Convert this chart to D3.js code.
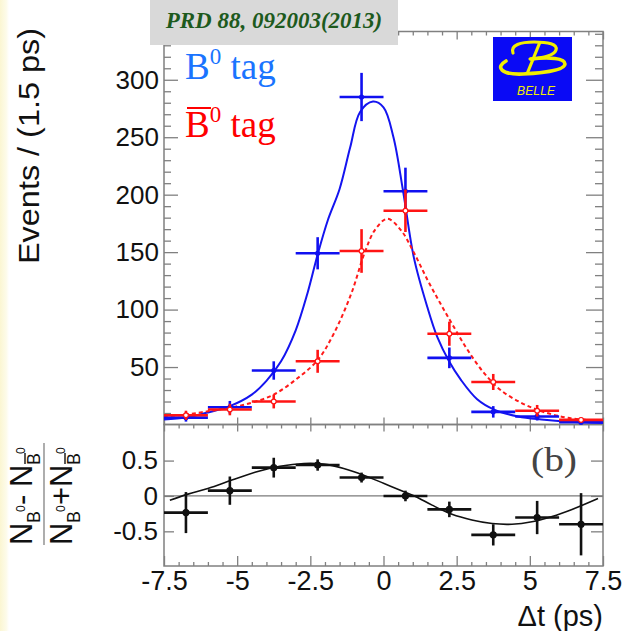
<!DOCTYPE html>
<html><head><meta charset="utf-8">
<script src="https://cdn.jsdelivr.net/npm/d3@7"></script>
<style>
html,body{margin:0;padding:0;background:#fff;}
svg{display:block;font-family:"Liberation Sans",Arial,sans-serif;}
</style></head><body>
<svg id="chart" width="624" height="631"></svg>
<script>
// Δt bins (centres, ps) and half bin width
const binCenters = [-6.75,-5.25,-3.75,-2.25,-0.75,0.75,2.25,3.75,5.25,6.75];
const binHalf = 0.75;

// B0-tagged events per bin and their errors
const b0Counts = [6,15,47,149,285,203,58,11,7,2];
const b0Errors = [3.5,5.5,8,14,21,20.5,9,5,3.5,2];

// anti-B0-tagged events per bin and their errors
const b0barCounts = [8,13,20,55,151,186,79,37,12,4];
const b0barErrors = [4,5,6,10,19,18.5,10.5,7,5,2];

// asymmetry (N_B0 - N_B0bar)/(N_B0 + N_B0bar) and errors
const asymValues = [-0.235,0.075,0.40,0.437,0.26,0.0,-0.19,-0.55,-0.305,-0.40];
const asymErrors = [0.29,0.2,0.14,0.08,0.07,0.075,0.11,0.15,0.235,0.44];

// fit projections sampled along Δt: [Δt, value]
const b0Fit = [[-7.5,4.3],[-6.75,6],[-6,10.5],[-5.25,16],[-4.5,26],[-4,38],[-3.5,55],[-3,82],[-2.6,114],[-2.25,148],[-1.9,178],[-1.5,205],[-1.14,241],[-0.8,272],[-0.36,281],[0,276],[0.34,250],[0.67,203],[1.04,145],[1.5,102],[1.84,76],[2.24,55],[2.64,39],[3.2,22],[3.78,13],[4.6,7],[5.4,4.3],[6.3,2.3],[7.5,1.3]];
const b0barFit = [[-7.5,7],[-6.75,8.7],[-6,11.5],[-5.25,14.5],[-4.5,19],[-3.75,26],[-3,39],[-2.25,56],[-1.7,79],[-1.1,114],[-0.65,149],[-0.3,169],[0.13,179],[0.6,169],[1.05,149],[1.5,126],[1.95,105],[2.4,85],[2.87,65],[3.43,45],[4.0,30],[4.7,19],[5.4,11.5],[6.3,5.8],[7.5,2.9]];
const asymFit = [[-7.3,-0.06],[-6.68,0.026],[-6,0.106],[-5.18,0.224],[-4.36,0.34],[-3.54,0.42],[-2.72,0.459],[-2.04,0.45],[-1.36,0.388],[-0.68,0.294],[0.02,0.176],[0.7,0.06],[1.11,-0.01],[1.66,-0.13],[2.34,-0.26],[3.02,-0.34],[3.71,-0.39],[4.39,-0.40],[5.07,-0.365],[5.76,-0.29],[6.44,-0.19],[7.33,-0.035]];

// tick values and labels
const xTicks = [-7.5,-5,-2.5,0,2.5,5,7.5];
const xMinorTicks = d3.range(-7.5,7.51,0.5).filter(v => Math.abs(v/2.5 - Math.round(v/2.5)) > 1e-6);
const yTopTicks = [50,100,150,200,250,300];
const yTopMinor = d3.range(10,341,10).filter(v => v % 50 !== 0);
const yBotTicks = [-0.5,0,0.5];

const svg = d3.select("#chart");
const L = 164, R = 603, T1 = 31.5, B1 = 424.5, B2 = 566;
const frameColor = "#808080";
const sans = "'Liberation Sans',Arial,sans-serif";
const serif = "'Liberation Serif','Times New Roman',serif";

// pale strip at the left edge
const defs = svg.append("defs");
const grad = defs.append("linearGradient").attr("id","edge").attr("x1",0).attr("x2",1);
grad.append("stop").attr("offset",0).attr("stop-color","#fbf6d2");
grad.append("stop").attr("offset",0.7).attr("stop-color","#fdfbea");
grad.append("stop").attr("offset",1).attr("stop-color","#ffffff");
svg.append("rect").attr("x",0).attr("y",0).attr("width",9).attr("height",631).attr("fill","url(#edge)");

const x = d3.scaleLinear().domain([-7.5,7.5]).range([L,R]);
const y1 = d3.scaleLinear().domain([0,342]).range([B1,T1]);
const y2 = d3.scaleLinear().domain([-0.99,1.01]).range([B2,B1]);

function styleAxis(g, fontSize) {
  g.select(".domain").remove();
  g.selectAll(".tick line").attr("stroke",frameColor).attr("stroke-width",1.3);
  g.selectAll(".tick text").attr("fill","#111").style("font-size",fontSize+"px").style("font-family",sans);
}
function addAxis(gen, tx, ty, fontSize) {
  const g = svg.append("g").attr("transform",`translate(${tx},${ty})`).call(gen);
  styleAxis(g, fontSize || 26);
  return g;
}

// ---- top panel axes ----
addAxis(d3.axisLeft(y1).tickValues(yTopMinor).tickSizeInner(-7).tickSizeOuter(0).tickFormat(""), L, 0);
addAxis(d3.axisLeft(y1).tickValues(yTopTicks).tickSizeInner(-14).tickSizeOuter(0).tickPadding(5), L, 0, 26);
addAxis(d3.axisRight(y1).tickValues(yTopMinor).tickSizeInner(-8).tickSizeOuter(0).tickFormat(""), R, 0);
addAxis(d3.axisRight(y1).tickValues(yTopTicks).tickSizeInner(-17).tickSizeOuter(0).tickFormat(""), R, 0);
addAxis(d3.axisTop(x).tickValues(xMinorTicks).tickSizeInner(-4).tickSizeOuter(0).tickFormat(""), 0, T1);
addAxis(d3.axisTop(x).tickValues(xTicks).tickSizeInner(-8).tickSizeOuter(0).tickFormat(""), 0, T1);
addAxis(d3.axisBottom(x).tickValues(xTicks).tickSizeInner(-7).tickSizeOuter(0).tickFormat(""), 0, B1);

// ---- bottom panel axes ----
addAxis(d3.axisTop(x).tickValues(xMinorTicks).tickSizeInner(-4).tickSizeOuter(0).tickFormat(""), 0, B1);
addAxis(d3.axisTop(x).tickValues(xTicks).tickSizeInner(-7).tickSizeOuter(0).tickFormat(""), 0, B1);
addAxis(d3.axisBottom(x).tickValues(xMinorTicks).tickSizeInner(-4).tickSizeOuter(0).tickFormat(""), 0, B2);
addAxis(d3.axisBottom(x).tickValues(xTicks).tickSizeInner(-10).tickSizeOuter(0).tickPadding(5)
  .tickFormat(d => String(d)), 0, B2, 27);
addAxis(d3.axisLeft(y2).tickValues(yBotTicks).tickSizeInner(-10).tickSizeOuter(0).tickPadding(6)
  .tickFormat(d => String(d)), L, 0, 26);
addAxis(d3.axisRight(y2).tickValues(yBotTicks).tickSizeInner(-12).tickSizeOuter(0).tickFormat(""), R, 0);

// frames
svg.append("rect").attr("x",L).attr("y",T1).attr("width",R-L).attr("height",B1-T1)
  .attr("fill","none").attr("stroke",frameColor).attr("stroke-width",1.5);
svg.append("rect").attr("x",L).attr("y",B1).attr("width",R-L).attr("height",B2-B1)
  .attr("fill","none").attr("stroke",frameColor).attr("stroke-width",1.5);

// zero line of asymmetry panel
svg.append("line").attr("x1",L).attr("x2",R).attr("y1",y2(0)).attr("y2",y2(0))
  .attr("stroke","#7a7a7a").attr("stroke-width",1.2);

// ---- fit curves ----
const line1 = d3.line().x(d => x(d[0])).y(d => y1(d[1])).curve(d3.curveCatmullRom);
const line2 = d3.line().x(d => x(d[0])).y(d => y2(d[1])).curve(d3.curveCatmullRom);
svg.append("path").attr("d",line1(b0Fit)).attr("fill","none").attr("stroke","#1414f0").attr("stroke-width",2);
svg.append("path").attr("d",line1(b0barFit)).attr("fill","none").attr("stroke","#ff1a1a")
  .attr("stroke-width",2).attr("stroke-dasharray","4,3");
svg.append("path").attr("d",line2(asymFit)).attr("fill","none").attr("stroke","#111").attr("stroke-width",1.6);

// ---- data points with error bars ----
function drawPoints(vals, errs, yScale, color, markerFill, r) {
  const g = svg.append("g");
  const pts = binCenters.map((c,i) => ({c, v: vals[i], e: errs[i]}));
  g.selectAll("line.h").data(pts).join("line")
    .attr("x1",d => x(d.c - binHalf)).attr("x2",d => x(d.c + binHalf))
    .attr("y1",d => yScale(d.v)).attr("y2",d => yScale(d.v))
    .attr("stroke",color).attr("stroke-width",2.6);
  g.selectAll("line.v").data(pts).join("line")
    .attr("x1",d => x(d.c)).attr("x2",d => x(d.c))
    .attr("y1",d => yScale(d.v - d.e)).attr("y2",d => yScale(d.v + d.e))
    .attr("stroke",color).attr("stroke-width",2.6);
  g.selectAll("circle").data(pts).join("circle")
    .attr("cx",d => x(d.c)).attr("cy",d => yScale(d.v)).attr("r",r)
    .attr("fill",markerFill).attr("stroke",color).attr("stroke-width",1.2);
}
drawPoints(b0Counts, b0Errors, y1, "#1010f0", "#1010f0", 2);
drawPoints(b0barCounts, b0barErrors, y1, "#ff1414", "#ffffff", 2.4);
drawPoints(asymValues, asymErrors, y2, "#111111", "#111111", 3);

// ---- axis titles ----
svg.append("text").attr("transform","translate(39,28) rotate(-90)").attr("text-anchor","end")
  .style("font-size","30px").attr("fill","#111").attr("textLength",236).attr("lengthAdjust","spacingAndGlyphs")
  .text("Events / (1.5 ps)");
svg.append("text").attr("x",603).attr("y",626).attr("text-anchor","end").style("font-size","29px")
  .attr("fill","#111").text("Δt (ps)");

// asymmetry title as a stacked fraction
const frac = svg.append("g").attr("transform","translate(42,487) rotate(-90)");
function sub(g, x0, yBase, bar) {
  // N with subscript B (optionally barred) and superscript 0
  g.append("text").attr("x",x0).attr("y",yBase).style("font-size","31px").attr("fill","#111").text("N");
  g.append("text").attr("x",x0+22).attr("y",yBase+8).style("font-size","18px").attr("fill","#111").text("B");
  g.append("text").attr("x",x0+33).attr("y",yBase-7).style("font-size","12px").attr("fill","#111").text("0");
  if (bar) g.append("line").attr("x1",x0+23).attr("x2",x0+34).attr("y1",yBase-7).attr("y2",yBase-7)
    .attr("stroke","#111").attr("stroke-width",1.4);
}
function fracRow(yBase, op) {
  sub(frac, -58, yBase, false);
  frac.append("text").attr("x",-18).attr("y",yBase).style("font-size","31px").attr("fill","#111").text(op);
  sub(frac, 0, yBase, true);
}
fracRow(-10, "-");
fracRow(30, "+");
frac.append("line").attr("x1",-58).attr("x2",44).attr("y1",2).attr("y2",2).attr("stroke","#777").attr("stroke-width",1.2);

// ---- legend ----
const leg1 = svg.append("text").attr("x",185).attr("y",79).style("font-family",serif)
  .style("font-size","37px").attr("fill","#1a74ff");
leg1.append("tspan").text("B");
leg1.append("tspan").attr("dy",-15).style("font-size","23px").text("0");
leg1.append("tspan").attr("dy",15).text(" tag");
const leg2 = svg.append("text").attr("x",185).attr("y",137).style("font-family",serif)
  .style("font-size","37px").attr("fill","#ff0000");
leg2.append("tspan").text("B");
leg2.append("tspan").attr("dy",-15).style("font-size","23px").text("0");
leg2.append("tspan").attr("dy",15).text(" tag");
svg.append("line").attr("x1",187).attr("x2",211).attr("y1",108).attr("y2",108)
  .attr("stroke","#ff0000").attr("stroke-width",2);

// panel tag
svg.append("text").attr("x",531).attr("y",471).style("font-family",serif).style("font-size","34px")
  .style("font-weight","normal").attr("fill","#444").attr("textLength",46)
  .attr("lengthAdjust","spacingAndGlyphs").text("(b)");

// ---- reference box ----
svg.append("rect").attr("x",150).attr("y",0).attr("width",248).attr("height",45).attr("fill","#d9d9d9");
svg.append("text").attr("x",274).attr("y",28).attr("text-anchor","middle").style("font-family",serif)
  .style("font-style","italic").style("font-weight","bold").style("font-size","23px").attr("fill","#1d5a1d")
  .text("PRD 88, 092003(2013)");

// ---- experiment logo ----
const logo = svg.append("g").attr("transform","translate(493,37)");
logo.append("rect").attr("width",79).attr("height",64).attr("fill","#0a0af5");
const yel = "#f2ee00";
logo.append("path").attr("d","M47,5 L34,37").attr("stroke",yel).attr("stroke-width",3.2).attr("fill","none");
logo.append("path").attr("d","M20,16 C17,8 28,5 41,5 C55,5 65,7 63,13 C61,19 50,21 37,22")
  .attr("stroke",yel).attr("stroke-width",3.2).attr("fill","none").attr("stroke-linecap","round");
logo.append("path").attr("d","M13,24 C2,30 8,38 30,37 C52,36 72,33 72,27 C72,21 56,20 38,22")
  .attr("stroke",yel).attr("stroke-width",3.6).attr("fill","none").attr("stroke-linecap","round");
logo.append("text").attr("x",24).attr("y",58).style("font-size","12px").style("font-style","italic")
  .attr("fill",yel).attr("textLength",38).text("BELLE");
</script>
</body></html>
